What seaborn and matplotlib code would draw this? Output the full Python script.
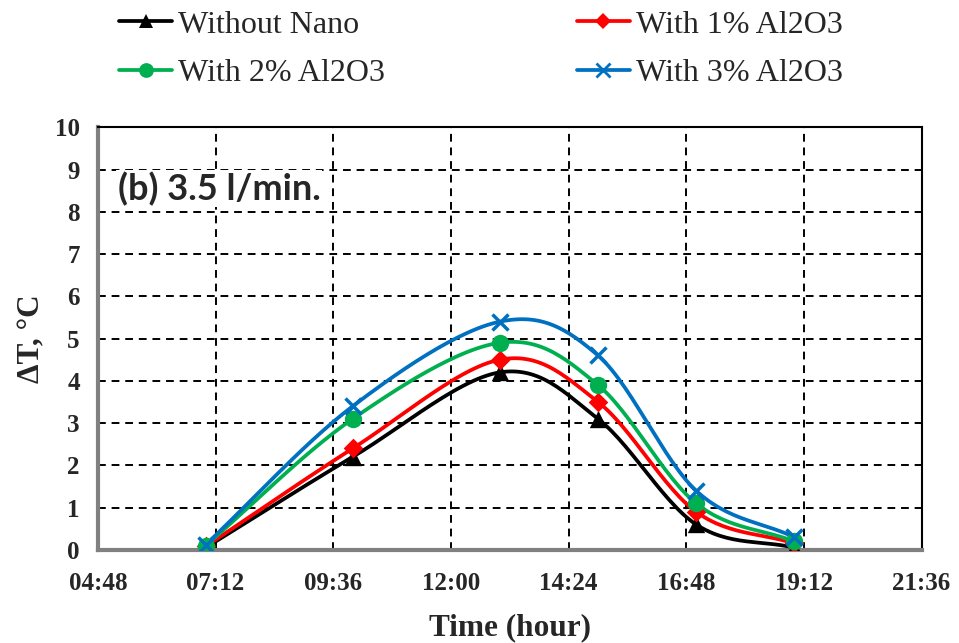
import numpy as np
import pandas as pd
import seaborn as sns
import matplotlib.pyplot as plt
from matplotlib.ticker import FuncFormatter, MultipleLocator

# time of day in hours
hours = [7, 10, 13, 15, 17, 19]
without_nano = [0.05, 2.2, 4.2, 3.1, 0.6, 0.05]
al2o3_1 = [0.08, 2.4, 4.5, 3.5, 0.9, 0.15]
al2o3_2 = [0.1, 3.1, 4.9, 3.9, 1.1, 0.2]
al2o3_3 = [0.12, 3.4, 5.4, 4.6, 1.4, 0.3]

labels = ["Without Nano", "With 1% Al2O3", "With 2% Al2O3", "With 3% Al2O3"]
colors = ["black", "#ff0000", "#00b050", "#0070c0"]
markers = ["^", "D", "o", "x"]
msizes = [12.5, 10, 12.5, 11.5]

df = pd.DataFrame({"hour": hours * 4,
                   "dT": without_nano + al2o3_1 + al2o3_2 + al2o3_3,
                   "series": sum([[l] * len(hours) for l in labels], [])})


def smooth(x, y, n=30):
    # Catmull-Rom style smoothing, similar to Excel's smoothed lines
    x = np.asarray(x, float)
    y = np.asarray(y, float)
    px = np.concatenate([[2 * x[0] - x[1]], x, [2 * x[-1] - x[-2]]])
    py = np.concatenate([[2 * y[0] - y[1]], y, [2 * y[-1] - y[-2]]])
    xs, ys = [], []
    t = np.linspace(0, 1, n)
    for i in range(1, len(px) - 2):
        p0x, p1x, p2x, p3x = px[i - 1:i + 3]
        p0y, p1y, p2y, p3y = py[i - 1:i + 3]
        c1x, c1y = p1x + (p2x - p0x) / 6, p1y + (p2y - p0y) / 6
        c2x, c2y = p2x - (p3x - p1x) / 6, p2y - (p3y - p1y) / 6
        bx = (1 - t) ** 3 * p1x + 3 * (1 - t) ** 2 * t * c1x + 3 * (1 - t) * t ** 2 * c2x + t ** 3 * p2x
        by = (1 - t) ** 3 * p1y + 3 * (1 - t) ** 2 * t * c1y + 3 * (1 - t) * t ** 2 * c2y + t ** 3 * p2y
        xs.append(bx)
        ys.append(by)
    return np.concatenate(xs), np.concatenate(ys)


sns.set_style("white")
plt.rcParams['font.family'] = ['Liberation Serif', 'DejaVu Serif']

fig = plt.figure(figsize=(9.59, 6.43), dpi=100)
ax = fig.add_axes([0.102, 0.145, 0.859, 0.657])

handles = {}
for lab, c, m, ms in zip(labels, colors, markers, msizes):
    sub = df[df["series"] == lab]
    sx, sy = smooth(sub["hour"], sub["dT"])
    ax.plot(sx, sy, color=c, lw=2.7, zorder=3)
    sns.scatterplot(x=sub["hour"], y=sub["dT"], ax=ax, color=c, marker=m, s=ms ** 2,
                    linewidth=2.5 if m == "x" else 0, edgecolor=c, zorder=4, legend=False)
    h, = ax.plot([], [], color=c, lw=2.7, marker=m, markersize=ms * 0.85,
                 markeredgewidth=2 if m == "x" else 0)
    handles[lab] = h

ax.set_xlim(4.8, 21.6)
ax.set_ylim(0, 10)
ax.xaxis.set_major_locator(MultipleLocator(2.4))
ax.yaxis.set_major_locator(MultipleLocator(1))
ax.xaxis.set_major_formatter(FuncFormatter(
    lambda v, p: "%02d:%02d" % (int(round(v * 60)) // 60, int(round(v * 60)) % 60)))

ax.grid(True, color="black", linestyle=(0, (4, 3)), lw=1.4)
for s in ax.spines.values():
    s.set_color("black")
    s.set_linewidth(1.5)
ax.spines["left"].set_color("#808080")
ax.spines["left"].set_linewidth(3)
ax.spines["bottom"].set_color("#808080")
ax.spines["bottom"].set_linewidth(3)

for t in ax.get_xticklabels() + ax.get_yticklabels():
    t.set_fontweight("bold")
    t.set_fontsize(18)
ax.tick_params(axis="y", length=0, pad=13)
ax.tick_params(axis="x", length=0, pad=16)

ax.set_xlabel("Time (hour)", fontsize=22.5, fontweight="bold", labelpad=13)
ax.set_ylabel("ΔT, °C", fontsize=22.5, fontweight="bold", labelpad=6)

ax.text(0.024, 0.855, "(b) 3.5 l/min.", transform=ax.transAxes, fontsize=26,
        fontweight="bold", family=["Lato", "DejaVu Sans"], va="center",
        bbox=dict(facecolor="white", edgecolor="none", pad=1))

order = ["Without Nano", "With 2% Al2O3", "With 1% Al2O3", "With 3% Al2O3"]
fig.legend(handles=[handles[k] for k in order], labels=order, ncol=2, loc="upper left",
           bbox_to_anchor=(116 / 959, 1 - 7 / 643), frameon=False, fontsize=23,
           borderpad=0.1, borderaxespad=0, columnspacing=6.0, handlelength=1.65,
           handletextpad=0.2, labelspacing=0.6)

fig.savefig("out.png", dpi=100)
